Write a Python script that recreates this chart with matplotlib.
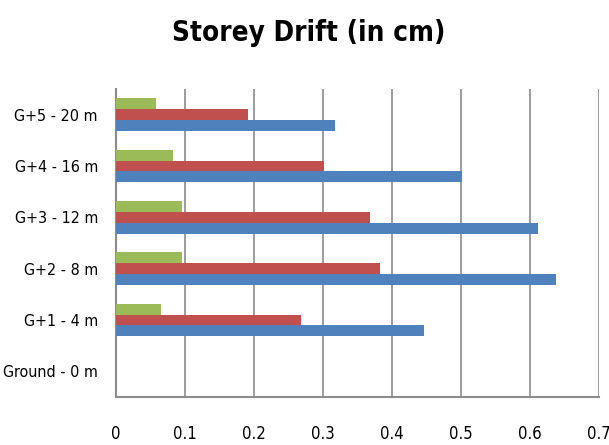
import numpy as np
import matplotlib
matplotlib.use('Agg')
import matplotlib.pyplot as plt
from matplotlib import font_manager

# storey levels, bottom to top
storeys = ['Ground - 0 m', 'G+1 - 4 m', 'G+2 - 8 m', 'G+3 - 12 m', 'G+4 - 16 m', 'G+5 - 20 m']

# drift values (cm) for the three cases
drift_blue = [0.0, 0.447, 0.638, 0.612, 0.502, 0.318]
drift_red = [0.0, 0.268, 0.383, 0.368, 0.301, 0.191]
drift_green = [0.0, 0.065, 0.095, 0.095, 0.082, 0.058]

x_ticks = [0, 0.1, 0.2, 0.3, 0.4, 0.5, 0.6, 0.7]
x_tick_labels = ['0', '0.1', '0.2', '0.3', '0.4', '0.5', '0.6', '0.7']

has_condensed = any(f.name == 'DejaVu Sans' and f.stretch == 'condensed'
                    for f in font_manager.fontManager.ttflist)
stretch = 'condensed' if has_condensed else 'normal'
font = dict(fontfamily='DejaVu Sans', fontstretch=stretch)

fig = plt.figure(figsize=(6.09, 4.45), dpi=100)
ax = fig.add_axes([116 / 609, 1 - 397 / 445, 483 / 609, 308 / 445])

y = np.arange(len(storeys))
h = 0.21
ax.barh(y - h, drift_blue, height=h, color='#4F81BD', zorder=3)
ax.barh(y, drift_red, height=h, color='#C0504D', zorder=3)
ax.barh(y + h, drift_green, height=h, color='#9BBB59', zorder=3)

ax.set_xlim(0, 0.7)
ax.set_ylim(-0.5, len(storeys) - 0.5)
ax.set_xticks(x_ticks)
ax.set_xticklabels(x_tick_labels, fontsize=12, **font)
ax.set_yticks(y)
ax.set_yticklabels(storeys, fontsize=11.5, **font)
ax.tick_params(axis='both', length=0)
ax.tick_params(axis='x', pad=20)
ax.tick_params(axis='y', pad=13)

ax.xaxis.grid(True, color='#8C8C8C', linewidth=1.2, zorder=0)
ax.set_axisbelow(True)
for side in ['top', 'right']:
    ax.spines[side].set_visible(False)
for side in ['left', 'bottom']:
    ax.spines[side].set_color('#8C8C8C')
    ax.spines[side].set_linewidth(1.5)

fig.text(309 / 609, 1 - 33 / 445, 'Storey Drift (in cm)', ha='center', va='center',
         fontweight='bold', fontsize=20, **font)

fig.savefig('out.png', dpi=100)
